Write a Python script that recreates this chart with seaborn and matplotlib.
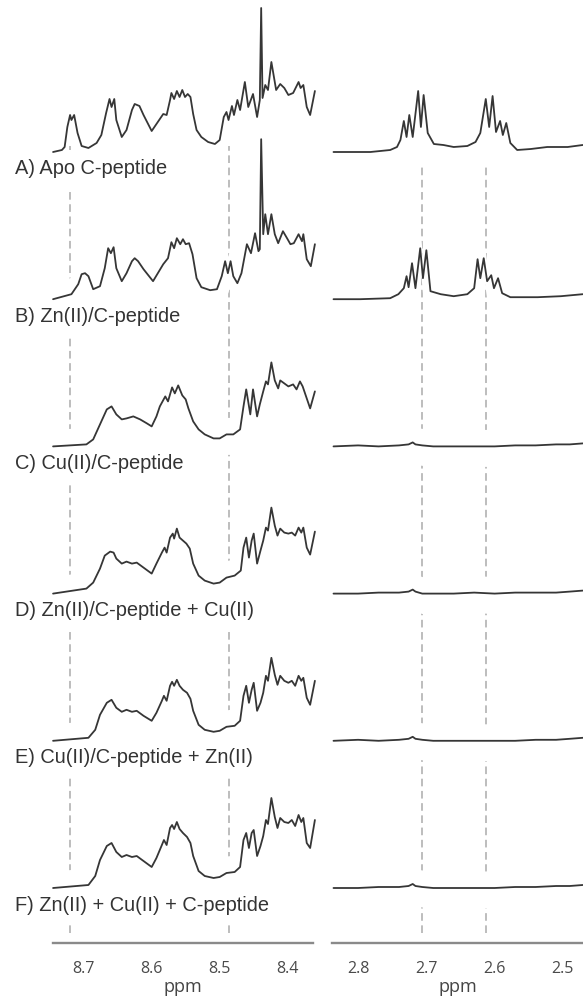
import matplotlib
matplotlib.use("Agg")
import matplotlib.pyplot as plt
import matplotlib.transforms as mtransforms
from matplotlib.ticker import MultipleLocator
import numpy as np
import pandas as pd
import seaborn as sns

# ---------------------------------------------------------------- data
samples = [
    "A) Apo C-peptide",
    "B) Zn(II)/C-peptide",
    "C) Cu(II)/C-peptide",
    "D) Zn(II)/C-peptide + Cu(II)",
    "E) Cu(II)/C-peptide + Zn(II)",
    "F) Zn(II) + Cu(II) + C-peptide",
]

# amide / aromatic region (left panel), intensity in arbitrary units
amide_ppm_a = [8.744, 8.731, 8.727, 8.723, 8.719, 8.717, 8.713, 8.708, 8.702, 8.692,
               8.680, 8.673, 8.666, 8.661, 8.658, 8.654, 8.651, 8.643, 8.636, 8.628,
               8.624, 8.617, 8.611, 8.599, 8.587, 8.582, 8.577, 8.572, 8.570, 8.566,
               8.562, 8.558, 8.554, 8.550, 8.546, 8.542, 8.538, 8.533, 8.526, 8.516,
               8.506, 8.499, 8.493, 8.489, 8.486, 8.481, 8.478, 8.473, 8.469, 8.462,
               8.457, 8.450, 8.444, 8.440, 8.438, 8.436, 8.432, 8.428, 8.423, 8.416,
               8.410, 8.404, 8.398, 8.391, 8.383, 8.380, 8.376, 8.371, 8.366, 8.359]
amide_int_a = [0, 2, 5, 25, 37, 32, 37, 19, 6, 4,
               9, 17, 39, 53, 45, 53, 32, 15, 22, 42,
               48, 46, 37, 21, 33, 38, 37, 52, 59, 53,
               61, 55, 62, 55, 58, 55, 38, 22, 15, 10,
               8, 12, 35, 40, 32, 46, 37, 52, 42, 70,
               45, 58, 35, 52, 144, 54, 67, 62, 90, 62,
               68, 64, 57, 59, 70, 64, 67, 45, 37, 61]

amide_ppm_b = [8.744, 8.717, 8.707, 8.702, 8.697, 8.692, 8.685, 8.675, 8.668, 8.663,
               8.659, 8.655, 8.651, 8.643, 8.636, 8.628, 8.624, 8.619, 8.611, 8.597,
               8.582, 8.575, 8.570, 8.566, 8.562, 8.557, 8.553, 8.549, 8.544, 8.539,
               8.533, 8.526, 8.513, 8.503, 8.496, 8.491, 8.487, 8.483, 8.479, 8.473,
               8.467, 8.459, 8.453, 8.447, 8.442, 8.440, 8.438, 8.435, 8.432, 8.428,
               8.423, 8.418, 8.413, 8.406, 8.400, 8.395, 8.390, 8.383, 8.378, 8.376,
               8.371, 8.365, 8.359]
amide_int_b = [0, 5, 15, 25, 26, 23, 10, 13, 31, 51,
               46, 52, 31, 18, 26, 38, 41, 38, 30, 18,
               35, 41, 57, 51, 61, 55, 60, 55, 56, 45,
               21, 12, 9, 10, 23, 38, 26, 38, 23, 16,
               26, 55, 46, 66, 48, 50, 160, 65, 85, 65,
               85, 65, 56, 68, 61, 55, 56, 65, 58, 65,
               40, 33, 55]

amide_ppm_c = [8.744, 8.695, 8.685, 8.675, 8.665, 8.658, 8.651, 8.643, 8.636, 8.626,
               8.616, 8.606, 8.599, 8.592, 8.587, 8.579, 8.575, 8.569, 8.565, 8.560,
               8.554, 8.549, 8.545, 8.538, 8.530, 8.521, 8.508, 8.499, 8.489, 8.479,
               8.469, 8.464, 8.460, 8.454, 8.450, 8.444, 8.440, 8.435, 8.431, 8.428,
               8.423, 8.418, 8.413, 8.410, 8.404, 8.398, 8.391, 8.386, 8.381, 8.377,
               8.371, 8.366, 8.359]
amide_int_c = [0, 2, 7, 22, 37, 40, 32, 27, 28, 30,
               27, 23, 20, 30, 40, 50, 45, 59, 53, 61,
               51, 47, 38, 25, 17, 12, 8, 8, 12, 12,
               17, 40, 57, 32, 57, 30, 42, 55, 65, 62,
               84, 66, 58, 66, 63, 60, 62, 57, 65, 60,
               48, 38, 55]

amide_ppm_d = [8.744, 8.695, 8.685, 8.675, 8.668, 8.660, 8.655, 8.651, 8.643, 8.636,
               8.628, 8.621, 8.611, 8.599, 8.592, 8.584, 8.580, 8.577, 8.572, 8.568,
               8.566, 8.562, 8.558, 8.553, 8.548, 8.543, 8.538, 8.530, 8.521, 8.508,
               8.499, 8.489, 8.477, 8.468, 8.464, 8.460, 8.456, 8.452, 8.449, 8.444,
               8.439, 8.435, 8.431, 8.428, 8.423, 8.418, 8.414, 8.410, 8.404, 8.398,
               8.393, 8.388, 8.383, 8.379, 8.376, 8.371, 8.366, 8.359]
amide_int_d = [0, 5, 11, 25, 38, 42, 41, 35, 30, 32,
               30, 31, 26, 20, 30, 41, 46, 41, 56, 60,
               55, 65, 56, 53, 50, 45, 30, 18, 13, 10,
               11, 16, 18, 23, 46, 56, 36, 53, 60, 30,
               43, 53, 66, 63, 86, 68, 58, 65, 61, 60,
               61, 58, 66, 61, 66, 46, 39, 62]

amide_ppm_ef = [8.744, 8.692, 8.682, 8.675, 8.665, 8.658, 8.651, 8.643, 8.636, 8.628,
                8.621, 8.611, 8.599, 8.592, 8.584, 8.581, 8.577, 8.572, 8.569, 8.566,
                8.562, 8.558, 8.553, 8.547, 8.542, 8.538, 8.530, 8.521, 8.508, 8.499,
                8.489, 8.477, 8.469, 8.464, 8.460, 8.456, 8.452, 8.449, 8.444, 8.439,
                8.435, 8.431, 8.428, 8.423, 8.418, 8.414, 8.410, 8.404, 8.398, 8.393,
                8.388, 8.383, 8.379, 8.376, 8.371, 8.366, 8.359]
amide_int_e = [0, 3, 11, 26, 38, 41, 33, 29, 31, 29,
               30, 25, 20, 28, 40, 45, 40, 55, 59, 55,
               61, 55, 51, 48, 42, 30, 16, 11, 9, 10,
               14, 15, 20, 45, 55, 38, 51, 58, 30, 38,
               48, 65, 60, 83, 66, 56, 65, 60, 58, 60,
               55, 65, 60, 63, 43, 36, 60]
amide_int_f = [0, 3, 12, 28, 42, 45, 36, 31, 33, 31,
               32, 27, 21, 30, 43, 48, 43, 60, 63, 59,
               66, 59, 55, 51, 45, 32, 17, 12, 10, 11,
               15, 16, 21, 48, 55, 40, 55, 58, 32, 42,
               52, 68, 64, 90, 71, 60, 70, 66, 65, 68,
               62, 73, 66, 70, 45, 40, 68]

# aliphatic region (right panel)
aliph_ppm_a = [2.836, 2.807, 2.782, 2.753, 2.743, 2.738, 2.733, 2.729, 2.725, 2.720,
               2.712, 2.708, 2.704, 2.698, 2.689, 2.675, 2.660, 2.640, 2.628, 2.621,
               2.613, 2.608, 2.603, 2.598, 2.592, 2.588, 2.583, 2.577, 2.567, 2.547,
               2.523, 2.493, 2.471]
aliph_int_a = [0, 0, 0, 2, 5, 12, 31, 15, 37, 15,
               61, 25, 57, 19, 8, 7, 5, 6, 10, 19,
               53, 25, 56, 20, 31, 17, 29, 9, 2, 3,
               5, 5, 7]

aliph_ppm_b = [2.836, 2.797, 2.753, 2.741, 2.733, 2.729, 2.726, 2.721, 2.716, 2.709,
               2.705, 2.700, 2.694, 2.679, 2.660, 2.640, 2.630, 2.625, 2.621, 2.616,
               2.611, 2.605, 2.601, 2.595, 2.589, 2.577, 2.537, 2.503, 2.471]
aliph_int_b = [0, 0, 1, 5, 11, 23, 12, 36, 11, 51,
               21, 49, 8, 5, 3, 5, 11, 40, 21, 41,
               18, 24, 11, 21, 6, 2, 2, 3, 5]

aliph_ppm_cf = [2.836, 2.800, 2.770, 2.740, 2.726, 2.720, 2.716, 2.706, 2.690, 2.660,
                2.630, 2.600, 2.570, 2.540, 2.510, 2.490, 2.471]
aliph_int_c = [0, 1, 0, 1, 2, 4, 2, 1, 0, 0, 0, 0, 1, 1, 2, 2, 3]
aliph_int_d = [0, 0, 1, 1, 2, 4, 2, 0, 0, 0, 1, 0, 1, 1, 1, 2, 3]
aliph_int_e = [0, 1, 0, 1, 2, 4, 2, 1, 0, 0, 0, 0, 0, 1, 1, 2, 3]
aliph_int_f = [0, 0, 1, 1, 2, 4, 2, 1, 0, 0, 0, 0, 1, 1, 2, 2, 3]

# reference shifts marked with dashed guides
guides_left = [8.719, 8.485]
guides_right = [2.707, 2.613]

ticks_left = [8.7, 8.6, 8.5, 8.4]
ticks_right = [2.8, 2.7, 2.6, 2.5]

# ---------------------------------------------------------------- tables
left_sets = [(amide_ppm_a, amide_int_a), (amide_ppm_b, amide_int_b),
             (amide_ppm_c, amide_int_c), (amide_ppm_d, amide_int_d),
             (amide_ppm_ef, amide_int_e), (amide_ppm_ef, amide_int_f)]
right_sets = [(aliph_ppm_a, aliph_int_a), (aliph_ppm_b, aliph_int_b),
              (aliph_ppm_cf, aliph_int_c), (aliph_ppm_cf, aliph_int_d),
              (aliph_ppm_cf, aliph_int_e), (aliph_ppm_cf, aliph_int_f)]

STEP = 147.2                      # vertical stacking distance between spectra
offsets = [STEP * (len(samples) - 1 - k) for k in range(len(samples))]


def stacked_frame(sets):
    rows = []
    for name, off, (ppm, inten) in zip(samples, offsets, sets):
        for p, v in zip(ppm, inten):
            rows.append({"sample": name, "ppm": p, "y": v + off})
    return pd.DataFrame(rows)


df_left = stacked_frame(left_sets)
df_right = stacked_frame(right_sets)

# ---------------------------------------------------------------- figure
sns.set_theme(style="white")
plt.rcParams["font.family"] = ["Liberation Sans", "DejaVu Sans"]

W, H, DPI = 583, 997, 100
fig = plt.figure(figsize=(W / DPI, H / DPI), dpi=DPI)
ax_l = fig.add_axes([53 / W, 54 / H, 260 / W, 943 / H])
ax_r = fig.add_axes([332 / W, 54 / H, 251 / W, 943 / H])

TRACE = "#363636"
GUIDE = "#ababab"
AXIS = "#8a8a8a"

panels = [
    (ax_l, df_left, left_sets, guides_left, ticks_left, (8.7441, 8.3618), offsets[0] + 6),
    (ax_r, df_right, right_sets, guides_right, ticks_right, (2.8382, 2.4706), offsets[0] - 11),
]

for ax, df, sets, guides, ticks, xlim, guide_top in panels:
    ax.set_xlim(*xlim)
    ax.set_ylim(-55, 888)

    # dashed guides, interrupted around each spectrum by a white band
    ax.vlines(guides, -45, guide_top, colors=GUIDE, linewidth=1.1,
              linestyles=(0, (5, 3)), zorder=1)
    for off, (ppm, inten) in zip(offsets, sets):
        yv = np.asarray(inten, dtype=float) + off
        ax.fill_between(ppm, yv - 20, yv + 17, color="white", lw=0, zorder=2)

    sns.lineplot(data=df, x="ppm", y="y", units="sample", estimator=None,
                 sort=False, color=TRACE, linewidth=1.3, ax=ax, legend=False,
                 zorder=3)
    for ln in ax.get_lines():
        ln.set_clip_on(False)
        ln.set_solid_joinstyle("round")

    sns.despine(ax=ax, left=True, top=True, right=True)
    ax.spines["bottom"].set_color(AXIS)
    ax.spines["bottom"].set_linewidth(1.7)
    ax.set_yticks([])
    ax.set_ylabel("")
    ax.set_xticks(ticks)
    ax.xaxis.set_minor_locator(MultipleLocator(0.05))
    ax.tick_params(axis="x", which="major", direction="out", length=4.5,
                   width=1.2, color=AXIS, pad=8.5, labelsize=11.5,
                   labelcolor="#4a4a4a")
    ax.tick_params(axis="x", which="minor", direction="out", length=2.5,
                   width=1.0, color=AXIS)
    ax.set_xticklabels([f"{t:.1f}" for t in ticks], fontfamily="Open Sans")
    ax.set_xlabel("ppm", fontfamily="Open Sans", fontsize=13, color="#444444",
                  labelpad=1)
    ax.set_facecolor("white")

# sample labels under each spectrum
lab_tf = mtransforms.blended_transform_factory(fig.transFigure, ax_l.transData)
for name, off in zip(samples, offsets):
    ax_l.text(15 / W, off - 22.5, name, transform=lab_tf, ha="left",
              va="baseline", fontsize=14.4, color="#333333", clip_on=False,
              zorder=2.5,
              bbox=dict(facecolor="white", edgecolor="none", pad=7))

fig.savefig("out.png", dpi=DPI, facecolor="white")
